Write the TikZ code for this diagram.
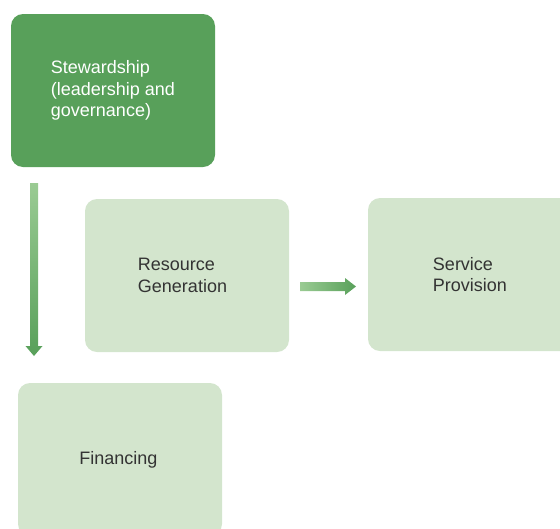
\documentclass[tikz,border=0pt]{standalone}
\usepackage{fontspec}
\setmainfont{Liberation Sans}
\definecolor{darkgreen}{HTML}{58A05A}
\definecolor{lightgreen}{HTML}{D3E5CD}
\definecolor{arrowlight}{HTML}{9ACB93}
\definecolor{arrowdark}{HTML}{58A05A}
\definecolor{textgray}{HTML}{333333}
\begin{document}
\begin{tikzpicture}[x=1pt,y=-1pt,
  box/.style={rounded corners=12pt, minimum width=204pt, minimum height=153pt, inner sep=0pt},
  lbl/.style={align=left, inner sep=0pt, font=\fontsize{18}{21.5}\selectfont},
  darkbox/.style={box, fill=darkgreen},
  lightbox/.style={box, fill=lightgreen}]
\useasboundingbox (0,0) rectangle (560,528);
\begin{scope}
\clip (0,0) rectangle (560,528);
\node[darkbox, label={[lbl, text=white]center:Stewardship\\(leadership and\\governance)}] (stew) at (113,90.5) {};
\node[lightbox, label={[lbl, text=textgray, xshift=-4.5pt]center:Resource\\Generation}] (res) at (187,275.5) {};
\node[lightbox, label={[lbl, text=textgray]center:Service\\Provision}] (serv) at (470,274.5) {};
\node[lightbox, label={[lbl, text=textgray, xshift=-1.5pt]center:Financing}] (fin) at (120,459.5) {};
\end{scope}
% vertical arrow
\coordinate (vs) at (34,183);
\coordinate (ve) at (34,356);
\shade[top color=arrowlight, bottom color=arrowdark]
  ([xshift=-4pt]vs) -- ([xshift=4pt]vs) -- ([xshift=4pt,yshift=10pt]ve) -- ([xshift=8.5pt,yshift=10pt]ve)
  -- (ve) -- ([xshift=-8.5pt,yshift=10pt]ve) -- ([xshift=-4pt,yshift=10pt]ve) -- cycle;
% horizontal arrow
\coordinate (hs) at (300,286.5);
\coordinate (he) at (356,286.5);
\shade[left color=arrowlight, right color=arrowdark]
  ([yshift=-4.5pt]hs) -- ([xshift=-11pt,yshift=-4.5pt]he) -- ([xshift=-11pt,yshift=-8.5pt]he)
  -- (he) -- ([xshift=-11pt,yshift=8.5pt]he) -- ([xshift=-11pt,yshift=4.5pt]he) -- ([yshift=4.5pt]hs) -- cycle;
\end{tikzpicture}
\end{document}
